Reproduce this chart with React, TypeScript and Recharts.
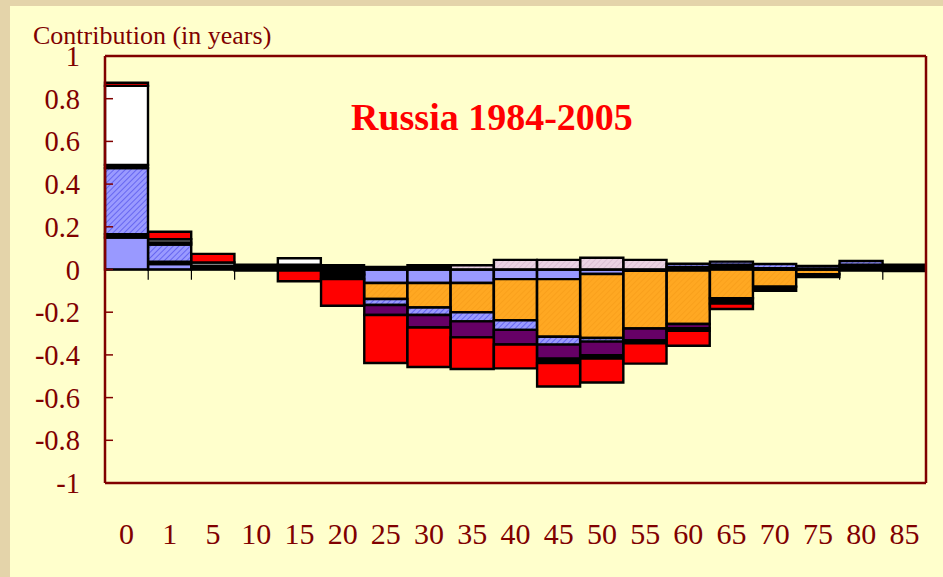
import React from "react";
import {
  BarChart,
  Bar,
  XAxis,
  YAxis,
  ReferenceLine,
} from "recharts";

// Age groups (category labels)
const ages = ["0", "1", "5", "10", "15", "20", "25", "30", "35", "40", "45", "50", "55", "60", "65", "70", "75", "80", "85"];

// Contributions (in years) by component, per age group
const periwinkle = [0.15, 0.025, 0, 0.004, 0, -0.008, -0.063, -0.063, -0.063, -0.045, -0.045, -0.021, -0.006, -0.005, 0, 0, 0, 0, 0];
const pink = [0, 0, 0.008, 0, 0.008, 0, 0, 0, 0.02, 0.045, 0.045, 0.055, 0.045, 0, 0.01, 0, 0, 0, 0];
const orange = [0, 0, 0, 0, 0, -0.012, -0.075, -0.115, -0.137, -0.193, -0.27, -0.3, -0.27, -0.25, -0.135, -0.08, -0.022, 0.01, 0.008];
const black1 = [0.015, 0.012, 0.01, 0.014, 0.015, 0, 0.012, 0.02, 0, 0, 0, 0, 0, 0.012, 0.012, 0.006, 0.005, 0.012, 0.015];
const hatched = [0.31, 0.08, 0, 0, 0, 0.008, -0.028, -0.035, -0.043, -0.045, -0.037, -0.017, 0, 0.015, 0.015, 0.02, 0.012, 0.018, 0];
const purple = [0, 0, 0, 0, 0, -0.005, -0.047, -0.059, -0.075, -0.068, -0.066, -0.063, -0.055, -0.02, 0, 0, 0, 0, 0];
const black2 = [0.015, 0.01, 0, 0.004, -0.005, -0.02, 0, 0, 0, 0, -0.02, -0.016, -0.015, -0.012, -0.025, -0.02, -0.013, -0.005, -0.007];
const white = [0.37, 0.015, 0.015, 0, 0.03, 0.012, 0, 0, 0, 0, 0, 0, 0, 0, 0, 0, 0, 0, 0];
const red = [0.015, 0.035, 0.04, -0.005, -0.05, -0.125, -0.225, -0.185, -0.148, -0.112, -0.11, -0.112, -0.095, -0.07, -0.025, 0, 0, 0, 0];

const yTicks = [1, 0.8, 0.6, 0.4, 0.2, 0, -0.2, -0.4, -0.6, -0.8, -1];
// category boundaries (left edge of these groups) that show a small tick at zero
const boundaryTicks = ["1", "5", "10", "15", "80", "85"];

const data = ages.map((age, i) => ({
  age,
  periwinkle: periwinkle[i],
  pink: pink[i],
  orange: orange[i],
  black1: black1[i],
  hatched: hatched[i],
  purple: purple[i],
  black2: black2[i],
  white: white[i],
  red: red[i],
}));

const series = [
  { key: "periwinkle", fill: "#9999FF" },
  { key: "pink", fill: "url(#hatchPink)" },
  { key: "orange", fill: "url(#hatchOrange)" },
  { key: "black1", fill: "#000000" },
  { key: "hatched", fill: "url(#hatchBlue)" },
  { key: "purple", fill: "#660066" },
  { key: "black2", fill: "#000000" },
  { key: "white", fill: "#FFFFFF" },
  { key: "red", fill: "#FF0000" },
];

const FONT = "'Liberation Serif', 'Times New Roman', serif";
const DARK = "#800000";

const YTick = (props: any) => {
  const { x, y, payload } = props;
  return (
    <g>
      <line x1={x} x2={x + 8} y1={y} y2={y} stroke={DARK} strokeWidth={1.5} />
      <text x={80} y={y + 10} textAnchor="end" fontFamily={FONT} fontSize={28.5} fill={DARK}>
        {String(payload.value)}
      </text>
    </g>
  );
};

const XTick = (props: any) => {
  const { x, y, payload } = props;
  return (
    <text x={x} y={y + 61} textAnchor="middle" fontFamily={FONT} fontSize={30} fill={DARK}>
      {payload.value}
    </text>
  );
};

export default function App() {
  return (
    <div
      style={{
        position: "absolute",
        left: 0,
        top: 0,
        width: 943,
        height: 577,
        background: "#E4D4AA",
        overflow: "hidden",
      }}
    >
      <div style={{ position: "absolute", left: 10, top: 6, right: 0, bottom: 0, background: "#FFFFCC" }} />
      <div style={{ position: "absolute", left: 0, top: 0 }}>
        <BarChart
          width={943}
          height={577}
          data={data}
          stackOffset="sign"
          barCategoryGap={0}
          barGap={0}
          margin={{ top: 0, right: 0, bottom: 0, left: 0 }}
        >
          <defs>
            <pattern id="hatchBlue" width="4" height="4" patternUnits="userSpaceOnUse" patternTransform="rotate(45)">
              <rect width="4" height="4" fill="#9A9AFF" />
              <line x1="0" y1="0" x2="0" y2="4" stroke="#5A5AEE" strokeWidth="1.6" />
            </pattern>
            <pattern id="hatchPink" width="4" height="4" patternUnits="userSpaceOnUse" patternTransform="rotate(45)">
              <rect width="4" height="4" fill="#EBD3E3" />
              <line x1="0" y1="0" x2="0" y2="4" stroke="#D2B4CA" strokeWidth="1.2" />
            </pattern>
            <pattern id="hatchOrange" width="4" height="4" patternUnits="userSpaceOnUse" patternTransform="rotate(45)">
              <rect width="4" height="4" fill="#FFA822" />
              <line x1="0" y1="0" x2="0" y2="4" stroke="#F59A18" strokeWidth="1.2" />
            </pattern>
          </defs>
          <XAxis
            xAxisId="c"
            dataKey="age"
            height={94}
            axisLine={{ stroke: DARK, strokeWidth: 2.5 }}
            tickLine={false}
            tickSize={0}
            tickMargin={0}
            interval={0}
            tick={<XTick />}
          />
          <XAxis
            xAxisId="t"
            dataKey="age"
            orientation="top"
            height={56}
            axisLine={{ stroke: DARK, strokeWidth: 2.5 }}
            tickLine={false}
            tick={false}
          />
          <YAxis
            yAxisId="l"
            domain={[-1, 1]}
            ticks={yTicks}
            width={105}
            interval={0}
            axisLine={{ stroke: DARK, strokeWidth: 2.5 }}
            tickLine={false}
            tickSize={0}
            tickMargin={0}
            allowDataOverflow
            tick={<YTick />}
          />
          <YAxis
            yAxisId="r"
            orientation="right"
            domain={[-1, 1]}
            width={17}
            axisLine={{ stroke: DARK, strokeWidth: 2.5 }}
            tickLine={false}
            tick={false}
            allowDataOverflow
          />
          {series.map((s) => (
            <Bar
              key={s.key}
              dataKey={s.key}
              xAxisId="c"
              yAxisId="l"
              stackId="a"
              fill={s.fill}
              stroke="#000000"
              strokeWidth={2.4}
              isAnimationActive={false}
            />
          ))}
          <ReferenceLine xAxisId="c" yAxisId="l" y={0} stroke="#000000" strokeWidth={1.5} />
          {boundaryTicks.map((b) => (
            <ReferenceLine
              key={b}
              xAxisId="c"
              yAxisId="l"
              position="start"
              segment={[
                { x: b, y: 0 },
                { x: b, y: -0.048 },
              ]}
              stroke="#000000"
              strokeWidth={1.2}
            />
          ))}
        </BarChart>
      </div>
      <svg
        width={943}
        height={577}
        style={{ position: "absolute", left: 0, top: 0, pointerEvents: "none" }}
      >
        <text x={33} y={44} fontFamily={FONT} fontSize={26} fill={DARK}>
          Contribution (in years)
        </text>
        <text x={351} y={130} fontFamily={FONT} fontSize={38} fontWeight="bold" fill="#FF0000">
          Russia 1984-2005
        </text>
      </svg>
    </div>
  );
}
